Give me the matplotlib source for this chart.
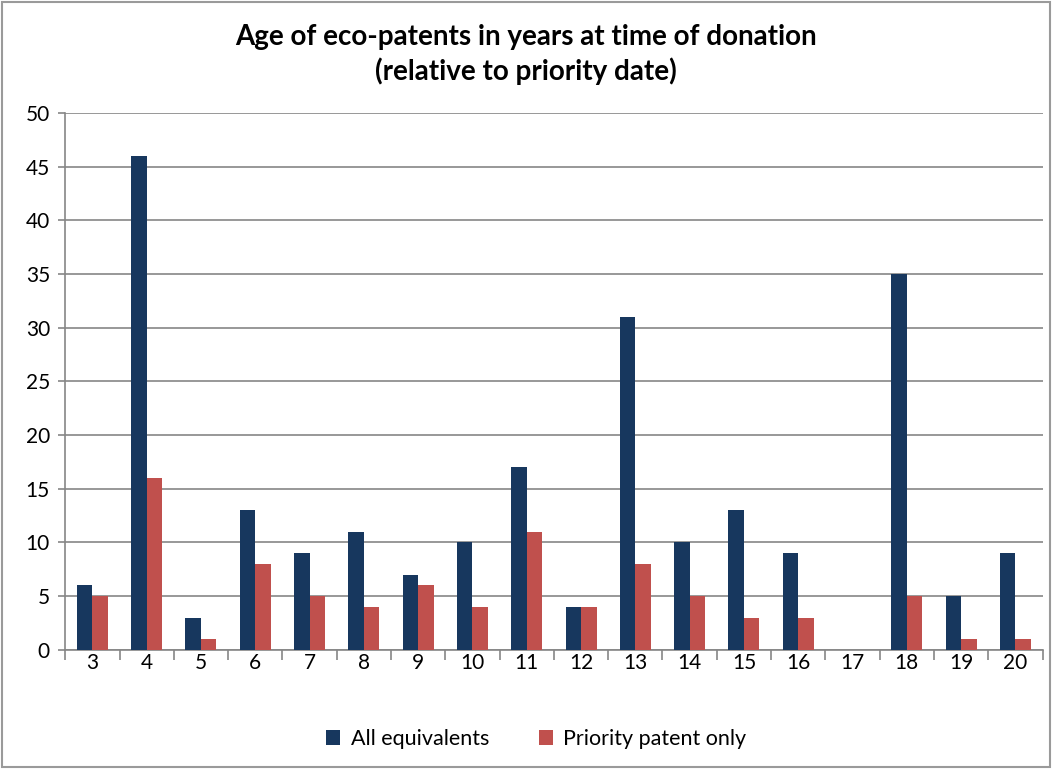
import numpy as np
import matplotlib
matplotlib.use("Agg")
from matplotlib import pyplot as plt

plt.rcParams['font.family'] = ['Lato', 'DejaVu Sans']

years = [3, 4, 5, 6, 7, 8, 9, 10, 11, 12, 13, 14, 15, 16, 17, 18, 19, 20]
all_equivalents = [6, 46, 3, 13, 9, 11, 7, 10, 17, 4, 31, 10, 13, 9, 0, 35, 5, 9]
priority_only = [5, 16, 1, 8, 5, 4, 6, 4, 11, 4, 8, 5, 3, 3, 0, 5, 1, 1]

navy = '#17375E'
red = '#C0504D'
grid = '#868686'

fig = plt.figure(figsize=(10.52, 7.69), dpi=100)
ax = fig.add_axes([0.062, 0.155, 0.929, 0.698])

x = np.arange(len(years))
w = 1 / 3.5
ax.bar(x - w / 2, all_equivalents, w, color=navy, label='All equivalents', zorder=3)
ax.bar(x + w / 2, priority_only, w, color=red, label='Priority patent only', zorder=3)

ax.set_xlim(-0.5, len(years) - 0.5)
ax.set_ylim(0, 50)
ax.set_yticks(range(0, 51, 5))
ax.yaxis.grid(True, color=grid, linewidth=1.2, zorder=0)
ax.set_xticks(x)
ax.set_xticklabels(years)
ax.set_xticks(np.arange(-0.5, len(years), 1), minor=True)
ax.tick_params(axis='x', which='major', length=0, pad=2, labelsize=15)
ax.tick_params(axis='x', which='minor', length=7, color=grid, width=1.2)
ax.tick_params(axis='y', length=5, color=grid, width=1.2, labelsize=15, pad=6)

for side in ['top', 'right']:
    ax.spines[side].set_visible(False)
for side in ['left', 'bottom']:
    ax.spines[side].set_color(grid)
    ax.spines[side].set_linewidth(1.2)

fig.text(0.5, 0.969, 'Age of eco-patents in years at time of donation\n(relative to priority date)',
         ha='center', va='top', fontsize=20, fontweight='bold', linespacing=1.35)

ax.legend(loc='center', bbox_to_anchor=(0.482, -0.166), ncol=2, frameon=False,
          fontsize=15.5, handlelength=0.65, handleheight=0.65, columnspacing=2.3, handletextpad=0.5)

fig.patches.append(plt.Rectangle((0.002, 0.002), 0.996, 0.996, transform=fig.transFigure,
                                 fill=False, edgecolor='#9a9a9a', linewidth=1.5))

fig.savefig('out.png', dpi=100)
